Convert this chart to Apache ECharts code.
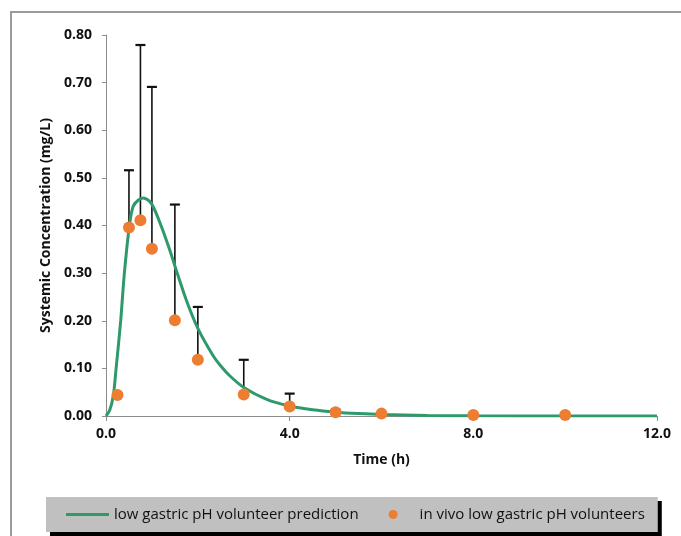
<!DOCTYPE html>
<html>
<head>
<meta charset="utf-8">
<script src="https://cdn.jsdelivr.net/npm/echarts@6/dist/echarts.min.js"></script>
<style>
  html, body { margin: 0; padding: 0; background: #fff; }
  #chart { width: 681px; height: 536px; }
</style>
</head>
<body>
<div id="chart"></div>
<script>
// model prediction curve
const predTime = [0, 0.08, 0.16, 0.22, 0.32, 0.40, 0.51, 0.59, 0.70, 0.81, 0.99, 1.21, 1.39, 1.5, 1.75, 2.0, 2.33, 2.5, 2.7, 3.0, 3.5, 4.0, 4.5, 5.0, 5.5, 6.0, 7.0, 8.0, 10.0, 12.0];
const predConc = [0, 0.012, 0.043, 0.10, 0.20, 0.30, 0.40, 0.44, 0.453, 0.458, 0.446, 0.397, 0.348, 0.315, 0.243, 0.184, 0.127, 0.105, 0.084, 0.060, 0.035, 0.021, 0.013, 0.008, 0.005, 0.003, 0.0012, 0.0005, 0.0001, 0];

// observed in vivo means and upper error bar ends
const obsTime = [0.25, 0.5, 0.75, 1.0, 1.5, 2.0, 3.0, 4.0, 5.0, 6.0, 8.0, 10.0];
const obsConc = [0.044, 0.396, 0.411, 0.351, 0.201, 0.118, 0.045, 0.020, 0.008, 0.005, 0.002, 0.002];
const obsUpper = [null, 0.516, 0.779, 0.691, 0.444, 0.229, 0.118, 0.047, 0.013, null, null, null];

const xTicks = [0, 4, 8, 12];
const yTicks = [0, 0.1, 0.2, 0.3, 0.4, 0.5, 0.6, 0.7, 0.8];

const FONT = "Open Sans";
const GREEN = "#2e9a6b";
const ORANGE = "#ed7d31";

const chart = echarts.init(document.getElementById("chart"), null, { renderer: "canvas" });

const errData = [];
obsTime.forEach((t, i) => {
  if (obsUpper[i] != null) errData.push([t, obsConc[i], obsUpper[i]]);
});

const options = {
  backgroundColor: "#fff",
  animation: false,
  textStyle: { fontFamily: FONT },
  graphic: [
    {
      type: "rect",
      shape: { x: 11, y: 12, width: 700, height: 560 },
      style: { fill: "none", stroke: "#9a9a9a", lineWidth: 2 },
      silent: true,
    },
  ],
  grid: { left: 106, right: 24, top: 35, bottom: 120 },
  legend: {
    left: 46,
    top: 497,
    padding: [10, 13, 10, 20],
    itemWidth: 43,
    itemHeight: 9,
    itemGap: 30,
    backgroundColor: "#c0c0c0",
    shadowColor: "#000",
    shadowBlur: 0,
    shadowOffsetX: 4,
    shadowOffsetY: 4,
    textStyle: { fontFamily: FONT, fontSize: 15, color: "#111" },
    data: [
      {
        name: "low gastric pH volunteer prediction",
        icon: "path://M0,0 L43,0 L43,3 L0,3 Z",
        itemStyle: { color: GREEN },
      },
      { name: "in vivo low gastric pH volunteers", icon: "circle" },
    ],
  },
  xAxis: {
    type: "value",
    min: 0,
    max: 12,
    interval: 4,
    name: "Time (h)",
    nameLocation: "middle",
    nameGap: 37,
    nameTextStyle: { fontFamily: FONT, fontWeight: "bold", fontSize: 14, color: "#111" },
    splitLine: { show: false },
    axisLine: { lineStyle: { color: "#8c8c8c", width: 1 } },
    axisTick: { length: 5, lineStyle: { color: "#8c8c8c" } },
    axisLabel: {
      margin: 11,
      fontFamily: FONT,
      fontWeight: "bold",
      fontSize: 14,
      color: "#111",
      formatter: v => (xTicks.includes(v) ? v.toFixed(1) : ""),
    },
  },
  yAxis: {
    type: "value",
    min: 0,
    max: 0.8,
    interval: 0.1,
    name: "Systemic Concentration (mg/L)",
    nameLocation: "middle",
    nameRotate: 90,
    nameGap: 48,
    nameTextStyle: { fontFamily: FONT, fontWeight: "bold", fontSize: 14, color: "#111" },
    splitLine: { show: false },
    axisLine: { show: true, lineStyle: { color: "#8c8c8c", width: 1 } },
    axisTick: { show: true, length: 4, lineStyle: { color: "#8c8c8c" } },
    axisLabel: {
      margin: 14,
      fontFamily: FONT,
      fontWeight: "bold",
      fontSize: 14,
      color: "#111",
      formatter: v => v.toFixed(2),
    },
  },
  series: [
    {
      name: "error",
      type: "custom",
      z: 2,
      data: errData,
      renderItem: (params, api) => {
        const base = api.coord([api.value(0), api.value(1)]);
        const top = api.coord([api.value(0), api.value(2)]);
        const cap = 5;
        const style = { stroke: "#111", lineWidth: 1.6 };
        return {
          type: "group",
          children: [
            { type: "line", shape: { x1: base[0], y1: base[1], x2: top[0], y2: top[1] }, style },
            { type: "line", shape: { x1: top[0] - cap, y1: top[1], x2: top[0] + cap, y2: top[1] }, style: { stroke: "#111", lineWidth: 2.2 } },
          ],
        };
      },
    },
    {
      name: "low gastric pH volunteer prediction",
      type: "line",
      z: 3,
      symbol: "none",
      showSymbol: false,
      smooth: 0.3,
      color: GREEN,
      lineStyle: { width: 3, color: GREEN },
      data: predTime.map((t, i) => [t, predConc[i]]),
    },
    {
      name: "in vivo low gastric pH volunteers",
      type: "scatter",
      z: 4,
      symbol: "circle",
      symbolSize: 12,
      color: ORANGE,
      itemStyle: { color: ORANGE, opacity: 1 },
      data: obsTime.map((t, i) => [t, obsConc[i]]),
    },
  ],
};

chart.setOption(options);
</script>
</body>
</html>
